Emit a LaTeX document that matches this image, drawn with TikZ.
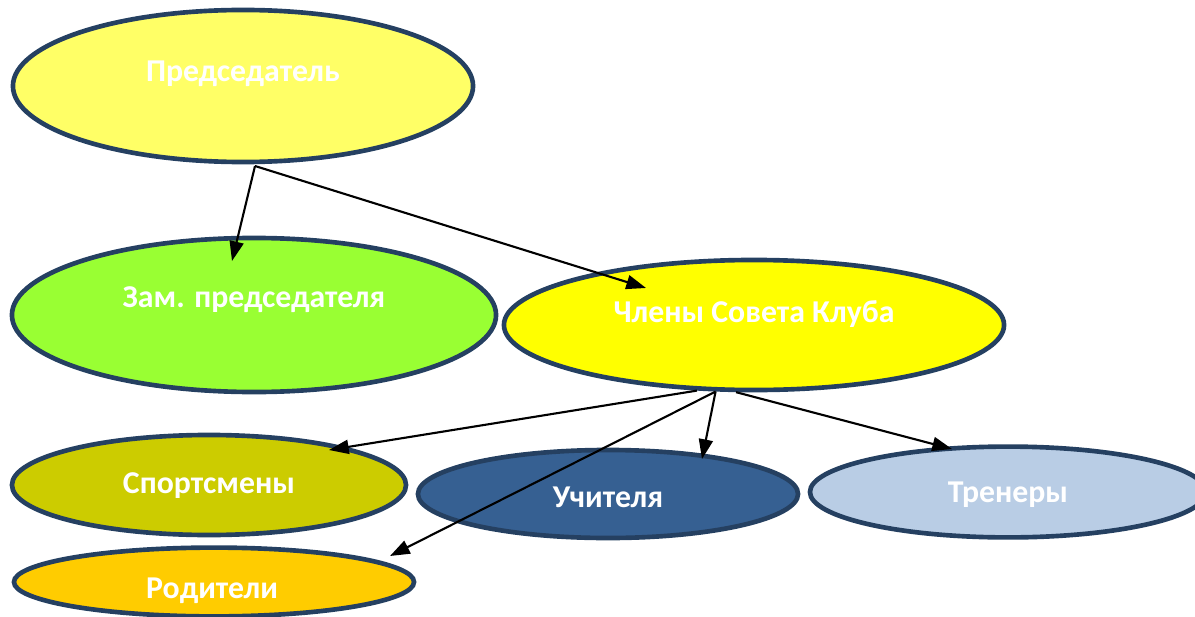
\documentclass[tikz,border=0pt]{standalone}
\usepackage{fontspec}
\setmainfont{Carlito}
\usetikzlibrary{arrows.meta,shapes}

\definecolor{rim}{HTML}{254061}
\definecolor{chairfill}{HTML}{FFFF66}
\definecolor{deputyfill}{HTML}{99FF33}
\definecolor{councilfill}{HTML}{FFFF00}
\definecolor{sportfill}{HTML}{CCCC00}
\definecolor{teachfill}{HTML}{366092}
\definecolor{coachfill}{HTML}{B9CDE5}
\definecolor{parentfill}{HTML}{FFCC00}

\tikzset{
  oval/.style={ellipse, draw=rim, line width=3.3pt, inner sep=0pt},
  lbl/.style={text=white, font=\fontsize{22.6}{27}\selectfont\bfseries, inner sep=0pt},
  arr/.style={-{Triangle[length=14pt,width=10pt]}, line width=1.5pt}
}

\begin{document}
\begin{tikzpicture}[x=0.025cm,y=-0.025cm]
    \useasboundingbox (0,0) rectangle (1195,617);
    \clip (0,0) rectangle (1195,617);
    % ovals
    \node[oval, fill=chairfill, minimum width=11.5cm, minimum height=3.8cm] (chair) at (243,86) {};
    \node[oval, fill=deputyfill, minimum width=12.1cm, minimum height=3.85cm] (deputy) at (254,315) {};
    \node[oval, fill=councilfill, minimum width=12.5cm, minimum height=3.25cm] (council) at (754,325) {};
    \node[oval, fill=sportfill, minimum width=9.85cm, minimum height=2.5cm] (sport) at (209,485) {};
    \node[oval, fill=teachfill, minimum width=9.5cm, minimum height=2.2cm] (teach) at (608,494) {};
    \node[oval, fill=coachfill, minimum width=9.9cm, minimum height=2.27cm] (coach) at (1008,492) {};
    \node[oval, fill=parentfill, minimum width=10cm, minimum height=1.72cm] (parent) at (214,582) {};
    % texts
    \node[lbl] (chair-t) at (243,74) {Председатель};
    \node[lbl] (deputy-t) at (254,300) {Зам. председателя};
    \node[lbl] (council-t) at (754,314) {Члены Совета Клуба};
    \node[lbl] (sport-t) at (209,486) {Спортсмены};
    \node[lbl] (teach-t) at (608,497) {Учителя};
    \node[lbl] (coach-t) at (1008,495) {Тренеры};
    \node[lbl] (parent-t) at (212,591) {Родители};
    % arrows
    \coordinate (fork) at (255,166);
    \coordinate (to-deputy) at (232,261);
    \coordinate (to-council) at (646,288);
    \coordinate (to-sport) at (329,450);
    \coordinate (to-parent) at (390,556);
    \coordinate (to-teach) at (702,459);
    \coordinate (to-coach) at (952,449);
    \draw[arr] (fork) -- (to-deputy);
    \draw[arr] (fork) -- (to-council);
    \draw[arr] (council.229) -- (to-sport);
    \draw[arr] (council.240) -- (to-parent);
    \draw[arr] (council.240) -- (to-teach);
    \draw[arr] (council.255) -- (to-coach);
\end{tikzpicture}
\end{document}
